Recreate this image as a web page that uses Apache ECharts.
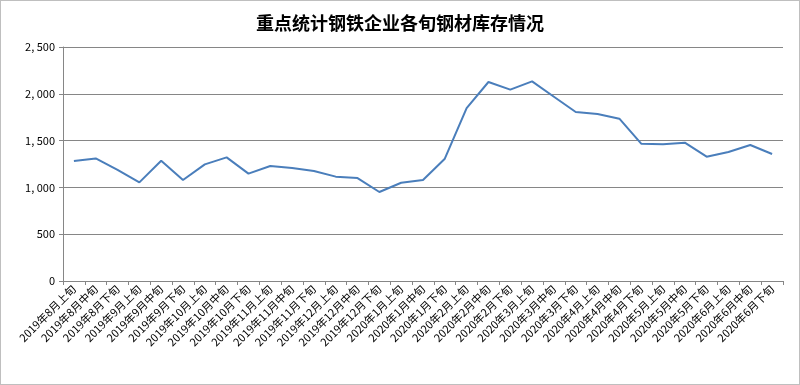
<!DOCTYPE html>
<html><head><meta charset="utf-8">
<script src="https://cdn.jsdelivr.net/npm/echarts@6/dist/echarts.min.js"></script>
<style>html,body{margin:0;padding:0;background:#fff}#c{width:798px;height:383px;border:1px solid #bfbfbf}</style>
</head><body><div id="c"></div>
<script>
const categories = ["2019年8月上旬","2019年8月中旬","2019年8月下旬","2019年9月上旬","2019年9月中旬","2019年9月下旬","2019年10月上旬","2019年10月中旬","2019年10月下旬","2019年11月上旬","2019年11月中旬","2019年11月下旬","2019年12月上旬","2019年12月中旬","2019年12月下旬","2020年1月上旬","2020年1月中旬","2020年1月下旬","2020年2月上旬","2020年2月中旬","2020年2月下旬","2020年3月上旬","2020年3月中旬","2020年3月下旬","2020年4月上旬","2020年4月中旬","2020年4月下旬","2020年5月上旬","2020年5月中旬","2020年5月下旬","2020年6月上旬","2020年6月中旬","2020年6月下旬"];
const inventory = [1282,1310,1188,1054,1285,1079,1246,1321,1147,1229,1207,1175,1115,1100,951,1050,1079,1307,1848,2126,2044,2133,1969,1805,1784,1734,1467,1460,1478,1328,1378,1453,1357];
const yTicks = {min:0, max:2500, interval:500};
const chart = echarts.init(document.getElementById('c'));
chart.setOption({
  animation:false,
  title:{text:'重点统计钢铁企业各旬钢材库存情况',left:'center',top:8,textStyle:{fontFamily:'Noto Sans CJK SC',fontSize:18,fontWeight:'bold',color:'#000'}},
  grid:{left:62,right:16,top:46,bottom:103},
  xAxis:{type:'category',data:categories,boundaryGap:true,
    axisLine:{lineStyle:{color:'#868686'}},
    axisTick:{show:true,length:4,lineStyle:{color:'#868686'}},
    axisLabel:{rotate:45,interval:0,fontSize:11,color:'#000',fontFamily:'Noto Sans CJK SC',margin:6}},
  yAxis:{type:'value',min:yTicks.min,max:yTicks.max,interval:yTicks.interval,
    axisLine:{show:true,lineStyle:{color:'#868686'}},
    axisTick:{show:true,length:4,lineStyle:{color:'#868686'}},
    splitLine:{lineStyle:{color:'#868686'}},
    axisLabel:{fontSize:11,color:'#000',fontFamily:'Noto Sans CJK SC',margin:8,
      formatter:v=>v.toLocaleString('en-US').replace(',', ', ')}},
  series:[{type:'line',data:inventory,symbol:'none',lineStyle:{color:'#4a7ebb',width:2}}]
});
</script></body></html>
